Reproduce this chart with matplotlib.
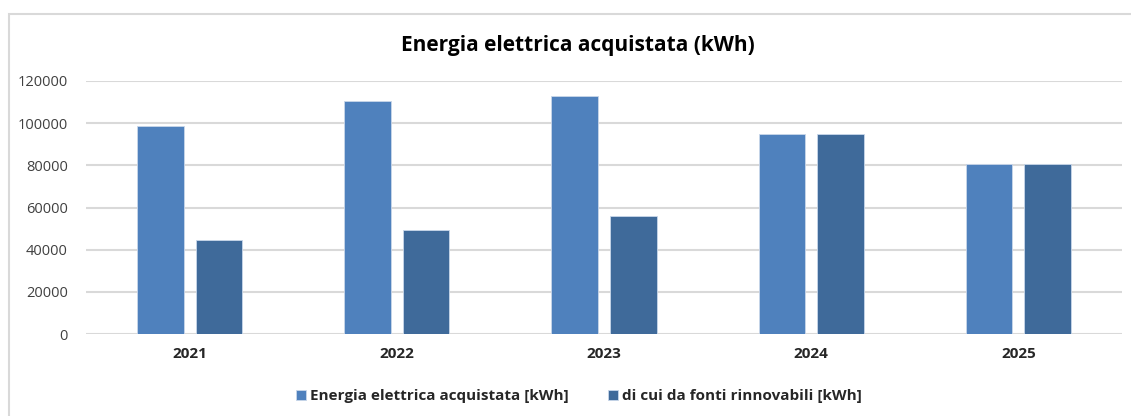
import numpy as np
import matplotlib
matplotlib.use('Agg')
import matplotlib.pyplot as plt
from matplotlib.patches import Rectangle

# data
years = ['2021', '2022', '2023', '2024', '2025']
energia_acquistata = [98800, 110500, 112800, 95000, 80800]
fonti_rinnovabili = [44600, 49500, 55800, 95000, 80800]

plt.rcParams['font.family'] = ['Open Sans', 'DejaVu Sans']

fig = plt.figure(figsize=(11.31, 4.16), dpi=100)
ax = fig.add_axes([86 / 1131, 82 / 416, 1036 / 1131, 253 / 416])

# outer chart border (as in the Excel export)
fig.patches.append(Rectangle((9 / 1131, -0.1), 1.2, (416 - 14) / 416 + 0.1,
                             transform=fig.transFigure, fill=False,
                             edgecolor='#D9D9D9', linewidth=1.5))

x = np.arange(len(years))
w = 0.225
ax.bar(x - 0.141, energia_acquistata, w, color='#4F81BD', edgecolor='#C9D7EA',
       linewidth=0.6, label='Energia elettrica acquistata [kWh]', zorder=3)
ax.bar(x + 0.141, fonti_rinnovabili, w, color='#3F6A9A', edgecolor='#C9D7EA',
       linewidth=0.6, label='di cui da fonti rinnovabili [kWh]', zorder=3)

ax.set_xlim(-0.5, len(years) - 0.5)
ax.set_ylim(0, 120000)
ax.set_yticks(np.arange(0, 120001, 20000))
ax.set_xticks(x)
ax.set_xticklabels(years, fontweight='bold', fontsize=11, color='#262626')
ax.tick_params(axis='y', labelsize=10.5, labelcolor='#404040', length=0, pad=13)
ax.tick_params(axis='x', length=0, pad=9)

ax.grid(axis='y', color='#D9D9D9', linewidth=1.5, zorder=0)
for s in ax.spines.values():
    s.set_visible(False)

fig.text(578 / 1131, 1 - 45 / 416, 'Energia elettrica acquistata (kWh)', ha='center',
         va='center', fontsize=15, fontweight='bold', color='#000000')

fig.legend(loc='center', bbox_to_anchor=(579 / 1131, 1 - 396 / 416), ncol=2,
           frameon=False, prop={'size': 11, 'weight': 'bold'},
           handlelength=0.65, handleheight=0.65, handletextpad=0.25,
           columnspacing=2.6)
for t in fig.legends[0].get_texts():
    t.set_color('#262626')

fig.savefig('out.png', dpi=100)
